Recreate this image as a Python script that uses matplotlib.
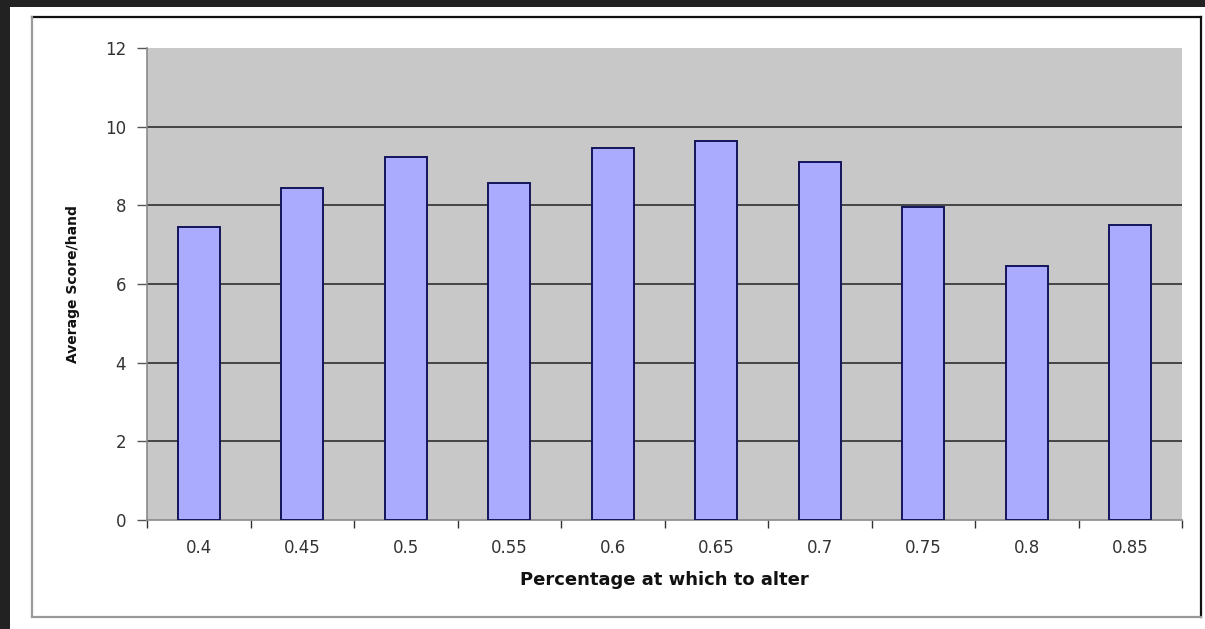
import matplotlib
matplotlib.use("Agg")
import matplotlib.pyplot as plt
from matplotlib.patches import Rectangle
from matplotlib.lines import Line2D

# Data
categories = ["0.4", "0.45", "0.5", "0.55", "0.6", "0.65", "0.7", "0.75", "0.8", "0.85"]
avg_score = [7.45, 8.45, 9.22, 8.58, 9.46, 9.64, 9.10, 7.97, 6.47, 7.50]
y_ticks = [0, 2, 4, 6, 8, 10, 12]

W, H = 1205, 629
fig = plt.figure(figsize=(W / 100, H / 100), dpi=100, facecolor="#222222")


def fx(px):
    return px / W


def fy(py):
    return 1 - py / H


# White page area
fig.add_artist(Rectangle((fx(10), 0), fx(W - 10), fy(7), transform=fig.transFigure,
                         facecolor="white", edgecolor="none", zorder=0))

# Chart frame: dark top/right, lighter left/bottom
frame_dark = dict(color="#111111", lw=1.6, transform=fig.transFigure, zorder=1)
frame_light = dict(color="#9a9a9a", lw=1.6, transform=fig.transFigure, zorder=1)
fig.add_artist(Line2D([fx(32), fx(1201)], [fy(17), fy(17)], **frame_dark))
fig.add_artist(Line2D([fx(1201), fx(1201)], [fy(17), fy(617)], **frame_dark))
fig.add_artist(Line2D([fx(32), fx(32)], [fy(17), fy(617)], **frame_light))
fig.add_artist(Line2D([fx(32), fx(1201)], [fy(617), fy(617)], **frame_light))

# Plot area
left, right, top, bottom = 147, 1182, 48, 520
ax = fig.add_axes([fx(left), fy(bottom), fx(right - left), (bottom - top) / H])
ax.set_facecolor("#c8c8c8")

x = list(range(len(categories)))
ax.bar(x, avg_score, width=0.41, color="#aaaaff", edgecolor="#14145a",
       linewidth=1.4, zorder=3)

ax.set_xlim(-0.5, len(categories) - 0.5)
ax.set_ylim(0, 12)

# Horizontal gridlines
for v in y_ticks[1:-1]:
    ax.axhline(v, color="#222222", lw=1.1, zorder=2)

for s in ("top", "right"):
    ax.spines[s].set_visible(False)
ax.spines["left"].set_color("#8a8a8a")
ax.spines["bottom"].set_color("#8a8a8a")
ax.spines["left"].set_linewidth(1.2)
ax.spines["bottom"].set_linewidth(1.2)

# Y axis
ax.set_yticks(y_ticks)
ax.set_yticklabels([str(v) for v in y_ticks])
ax.tick_params(axis="y", direction="out", length=7, width=1, color="#555555",
               labelsize=12, labelcolor="#333333", pad=8)

# X axis: ticks at category boundaries, labels at centres
ax.set_xticks([i - 0.5 for i in range(len(categories) + 1)])
ax.set_xticklabels([""] * (len(categories) + 1))
ax.set_xticks(x, minor=True)
ax.set_xticklabels(categories, minor=True)
ax.tick_params(axis="x", which="major", direction="out", length=6, width=1, color="#333333")
ax.tick_params(axis="x", which="minor", length=0, labelsize=12, labelcolor="#333333", pad=14)

ax.set_ylabel("Average Score/hand", fontsize=10, fontweight="bold", color="#111111", labelpad=18)
ax.set_xlabel("Percentage at which to alter", fontsize=13, fontweight="bold",
              color="#111111", labelpad=10)

fig.savefig("out.png", dpi=100, facecolor=fig.get_facecolor())
